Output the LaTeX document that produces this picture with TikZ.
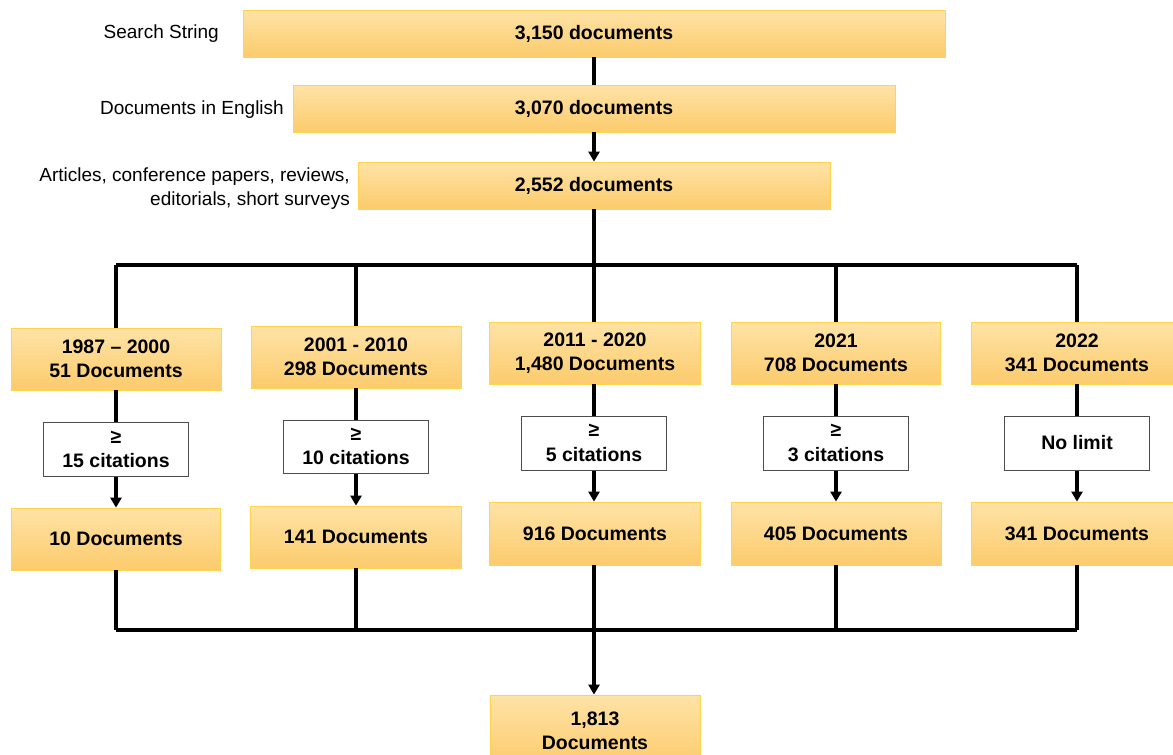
\documentclass[tikz,border=0pt]{standalone}
\usepackage{fontspec}
\setmainfont{Liberation Sans}
\usetikzlibrary{arrows.meta}
\definecolor{boxtop}{HTML}{FEE3A6}
\definecolor{boxbot}{HTML}{FCCB6C}
\definecolor{boxline}{HTML}{FFD34F}
\tikzset{
  ybox/.style={draw=boxline, line width=0.8pt, top color=boxtop, bottom color=boxbot,
    inner sep=0pt, align=center, font=\fontsize{19.5}{24.5}\selectfont\bfseries},
  cbox/.style={draw=black!70, line width=1pt, fill=white, inner sep=0pt, align=center,
    font=\fontsize{19.5}{24.5}\selectfont\bfseries, minimum width=145pt, minimum height=54pt},
  lbl/.style={anchor=east, inner sep=0pt, align=right, font=\fontsize{19}{24}\selectfont},
  conn/.style={line width=3.4pt, black},
  arr/.style={conn, -{Triangle[length=10pt,width=11pt]}}
}
\begin{document}
\begin{tikzpicture}[x=1pt,y=-1pt]
\useasboundingbox (0,0) rectangle (1173,755);
\clip (0,0) rectangle (1173,755);
% top chain
\node[ybox, minimum width=702pt, minimum height=47pt] (s1) at (594,33.5) {3,150 documents};
\node[ybox, minimum width=602pt, minimum height=47pt] (s2) at (594,108.5) {3,070 documents};
\node[ybox, minimum width=472pt, minimum height=47pt] (s3) at (594,185.5) {2,552 documents};
\node[lbl] (l1) at (219,34) {Search String};
\node[lbl] (l2) at (284,110) {Documents in English};
\node[lbl] (l3) at (350,189) {Articles, conference papers, reviews,\\editorials, short surveys};
% year boxes
\node[ybox, minimum width=210pt, minimum height=62pt] (y1) at (116,359) {1987 -- 2000\\51 Documents};
\node[ybox, minimum width=210pt, minimum height=62pt] (y2) at (356,357) {2001 - 2010\\298 Documents};
\node[ybox, minimum width=211pt, minimum height=62pt] (y3) at (595,353) {2011 - 2020\\1,480 Documents};
\node[ybox, minimum width=209pt, minimum height=62pt] (y4) at (836,353) {2021\\708 Documents};
\node[ybox, minimum width=212pt, minimum height=62pt] (y5) at (1077,353) {2022\\341 Documents};
% citation boxes
\node[cbox] (c1) at (116,449.5) {≥\\15 citations};
\node[cbox, minimum height=53pt] (c2) at (356,446.5) {≥\\10 citations};
\node[cbox] (c3) at (594,443) {≥\\5 citations};
\node[cbox] (c4) at (836,443) {≥\\3 citations};
\node[cbox] (c5) at (1077,443) {No limit};
% result boxes
\node[ybox, minimum width=209pt, minimum height=62pt] (r1) at (116,539) {10 Documents};
\node[ybox, minimum width=211pt, minimum height=62pt] (r2) at (356,537) {141 Documents};
\node[ybox, minimum width=211pt, minimum height=63pt] (r3) at (595,533.5) {916 Documents};
\node[ybox, minimum width=210pt, minimum height=63pt] (r4) at (836,533.5) {405 Documents};
\node[ybox, minimum width=212pt, minimum height=63pt] (r5) at (1077,533.5) {341 Documents};
% final
\node[ybox, minimum width=210pt, minimum height=72pt] (f) at (595,731) {1,813\\Documents};
% junction coordinates
\coordinate (tj) at (594,265);
\coordinate (t1) at (116,265);
\coordinate (t5) at (1077,265);
\coordinate (b1) at (116,630);
\coordinate (b5) at (1077,630);
% connectors
\draw[conn] (s1.south) -- (s2.north);
\draw[arr] (s2.south) -- (s3.north);
\draw[conn] (s3.south) -- (tj);
\draw[conn] (t1) -- (t5);
\foreach \i in {1,...,5}{
  \draw[conn] (t1 -| c\i) -- (y\i.north -| c\i);
  \draw[conn] (y\i.south -| c\i) -- (c\i.north);
  \draw[arr] (c\i.south) -- (r\i.north -| c\i);
}
\draw[conn] (b1) -- (b5);
\foreach \i in {1,2,4,5}{
  \draw[conn] (r\i.south -| c\i) -- (b1 -| c\i);
}
\draw[arr] (r3.south -| c3) -- (f.north -| c3);
\end{tikzpicture}
\end{document}
